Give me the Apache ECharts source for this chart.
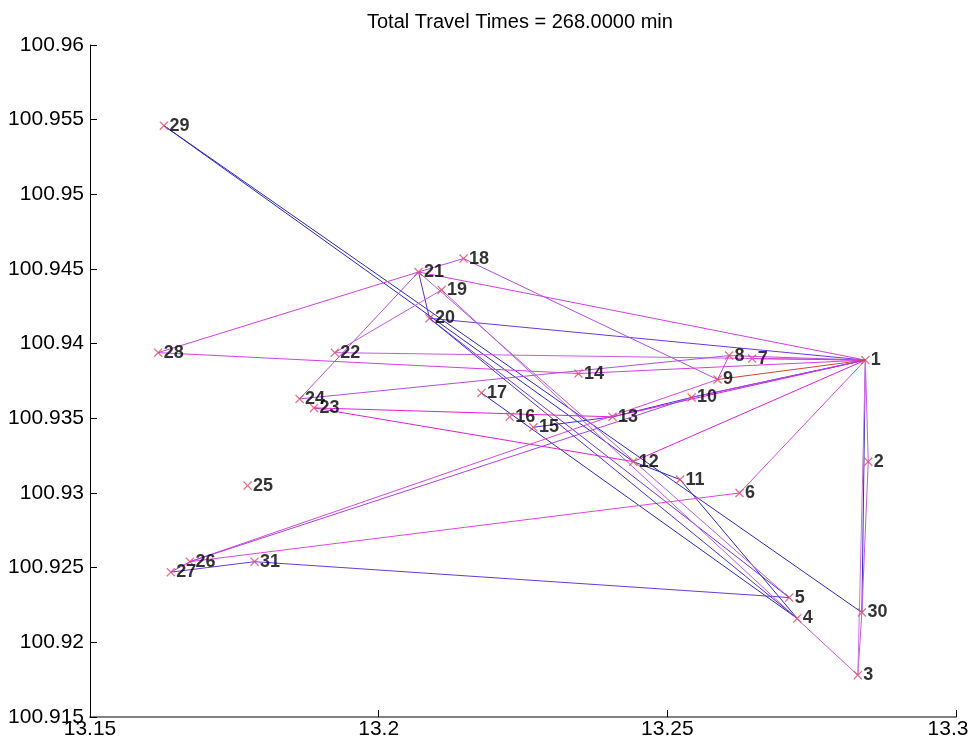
<!DOCTYPE html>
<html>
<head>
<meta charset="UTF-8">
<title>Total Travel Times</title>
<script src="https://cdn.jsdelivr.net/npm/echarts@6/dist/echarts.min.js"></script>
<style>
html, body { margin: 0; padding: 0; background: #fff; }
#main { width: 969px; height: 747px; }
</style>
</head>
<body>
<div id="main"></div>
<script type="text/javascript">
// node coordinates, node k+1 is at (nodeX[k], nodeY[k])
var nodeX = [13.2843, 13.2848, 13.2830, 13.2725, 13.2711, 13.2625, 13.2647, 13.2607, 13.2587, 13.2542,
             13.2522, 13.2441, 13.2405, 13.2346, 13.2268, 13.2227, 13.2178, 13.2147, 13.2109, 13.2088,
             13.2069, 13.1924, 13.1888, 13.1863, 13.1773, 13.1673, 13.1640, 13.1618, 13.1628, 13.2837,
             13.1785];
var nodeY = [100.9389, 100.9321, 100.9178, 100.9216, 100.9230, 100.9300, 100.9390, 100.9392, 100.9376, 100.9364,
             100.9309, 100.9321, 100.9351, 100.9380, 100.9344, 100.9351, 100.9367, 100.9457, 100.9436, 100.9417,
             100.9448, 100.9394, 100.9357, 100.9363, 100.9305, 100.9254, 100.9247, 100.9394, 100.9546, 100.9220,
             100.9254];

// travelled paths, as node numbers
var routes = [
    [1, 30, 29, 12, 11, 4, 17],
    [27, 31, 5, 20, 1],
    [21, 20],
    [1, 10, 13, 15],
    [1, 21, 28, 14, 1],
    [1, 22, 19, 3, 30, 2, 1],
    [1, 8, 24, 21, 18, 9, 8],
    [1, 12, 23, 13, 1],
    [1, 6, 26, 9],
    [27, 26, 10, 1],
    [21, 5],
    [20, 4],
    [1, 3],
    [1, 7],
    [9, 1]
];

var xTicks = { min: 13.15, max: 13.3, step: 0.05 };
var yTicks = { min: 100.915, max: 100.96, step: 0.005 };
var titleText = 'Total Travel Times = 268.0000 min';

var routeColors = ['#2a2ac4', '#6a38dc', '#5a30d0', '#5030d0',
                   '#d040e0', '#c65ae0', '#b050e0', '#e020d8', '#d848e0', '#b040e8',
                   '#b060d8', '#4a34d0', '#d070e0', '#e030e0', '#c84838'];

var myChart = echarts.init(document.getElementById('main'));

var points = nodeX.map(function (x, i) {
    return { value: [x, nodeY[i]], name: String(i + 1) };
});

var lineData = routes.map(function (r, i) {
    return {
        coords: r.map(function (n) { return [nodeX[n - 1], nodeY[n - 1]]; }),
        lineStyle: { color: routeColors[i % routeColors.length] }
    };
});

var tickFont = { color: '#000', fontFamily: 'Liberation Sans', fontSize: 21 };

var option = {
    animation: false,
    backgroundColor: '#fff',
    title: {
        text: titleText,
        left: 362,
        top: 7,
        textStyle: { fontFamily: 'Liberation Sans', fontSize: 20, fontWeight: 'normal', color: '#000' }
    },
    grid: { left: 90, right: 13, top: 45, bottom: 30, outerBoundsMode: 'none' },
    xAxis: {
        type: 'value',
        min: xTicks.min,
        max: xTicks.max,
        interval: xTicks.step,
        axisLine: { lineStyle: { color: '#808080', width: 2 } },
        axisTick: { inside: true, length: 7, lineStyle: { color: '#000' } },
        splitLine: { show: false },
        axisLabel: Object.assign({
            margin: 2,
            // the last label is pulled in a little so it stays inside the page
            formatter: function (v) {
                var s = String(+v.toFixed(4));
                return Math.abs(v - xTicks.max) < 1e-9 ? '{r|' + s + '}' : s;
            },
            rich: { r: { fontFamily: 'Liberation Sans', fontSize: 21, color: '#000', padding: [0, 16, 0, 0] } }
        }, tickFont)
    },
    yAxis: {
        type: 'value',
        min: yTicks.min,
        max: yTicks.max,
        interval: yTicks.step,
        axisLine: { show: true, lineStyle: { color: '#000', width: 1 } },
        axisTick: { show: true, inside: true, length: 7, lineStyle: { color: '#000' } },
        splitLine: { show: false },
        axisLabel: Object.assign({ margin: 6 }, tickFont)
    },
    series: [
        {
            type: 'lines',
            coordinateSystem: 'cartesian2d',
            polyline: true,
            silent: true,
            lineStyle: { width: 1, opacity: 1 },
            data: lineData,
            z: 2
        },
        {
            type: 'scatter',
            data: points,
            symbol: 'path://M0,1L1,0L5,4L9,0L10,1L6,5L10,9L9,10L5,6L1,10L0,9L4,5Z',
            symbolSize: 9,
            itemStyle: { color: '#e04a66' },
            label: {
                show: true,
                position: 'right',
                distance: 1,
                formatter: '{b}',
                color: '#000',
                fontFamily: 'Liberation Sans',
                fontWeight: 'bold',
                fontSize: 18
            },
            z: 3
        }
    ]
};

myChart.setOption(option);
</script>
</body>
</html>
